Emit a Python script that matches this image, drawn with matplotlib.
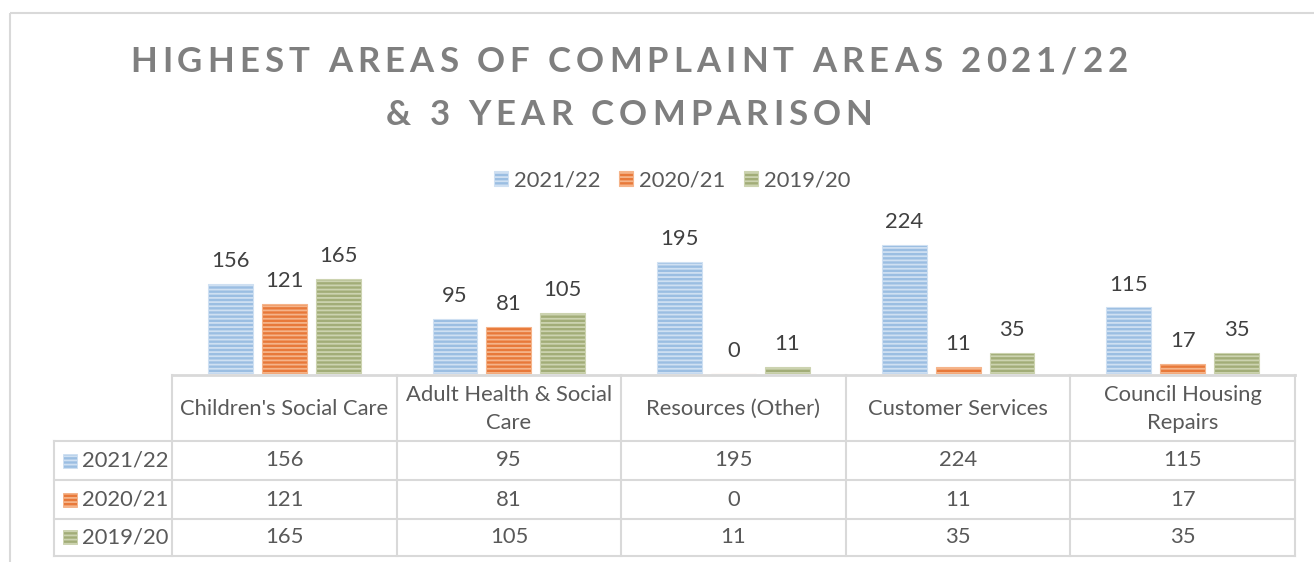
import textwrap
import numpy as np
import matplotlib
matplotlib.use("Agg")
import matplotlib.pyplot as plt
from matplotlib.patches import Rectangle
from matplotlib.lines import Line2D
from matplotlib.font_manager import FontProperties, findfont, get_font
import matplotlib.transforms as mtransforms

# ---------------- data ----------------
categories = ["Children's Social Care", "Adult Health & Social Care",
              "Resources (Other)", "Customer Services", "Council Housing Repairs"]
series_names = ["2021/22", "2020/21", "2019/20"]
vals_2021_22 = [156, 95, 195, 224, 115]
vals_2020_21 = [121, 81, 0, 11, 17]
vals_2019_20 = [165, 105, 11, 35, 35]
title_lines = ["HIGHEST AREAS OF COMPLAINT AREAS 2021/22", "& 3 YEAR COMPARISON"]

series_vals = [vals_2021_22, vals_2020_21, vals_2019_20]
face_cols = ["#9BBEE2", "#E8793A", "#A2AD78"]
hatch_cols = ["#CFE0F2", "#F5B48A", "#CCD3B0"]

W, H, DPI = 1314, 562, 100
plt.rcParams["font.family"] = ["Lato", "DejaVu Sans"]
plt.rcParams["hatch.linewidth"] = 1.3
TXT = "#595959"
GRID = "#D9D9D9"
FS = 15.8

fig = plt.figure(figsize=(W / DPI, H / DPI), dpi=DPI)
fig.patch.set_facecolor("white")

def fx(x):
    return x / W

def fy(y):
    return 1 - y / H

# ---------------- main axes ----------------
ax_l, ax_r, ax_b, ax_t = 172, 1295, 373.5, 230
ax = fig.add_axes([fx(ax_l), fy(ax_b), fx(ax_r - ax_l), (ax_b - ax_t) / H])
ax.set_xlim(-0.5, len(categories) - 0.5)
ax.set_ylim(0, 250)
ax.axis("off")

x = np.arange(len(categories))
bw = 0.2
offs = [-0.24, 0.0, 0.24]
for vals, name, fc, hc, off in zip(series_vals, series_names, face_cols, hatch_cols, offs):
    bars = ax.bar(x + off, vals, width=bw, color=fc, edgecolor=hc, hatch="----",
                  linewidth=0.8, label=name, zorder=2)
    for xi, v in zip(x + off, vals):
        ax.annotate(str(v), (xi, v), xytext=(0, 12.2), textcoords="offset points",
                    ha="center", va="baseline", fontsize=FS, color="#404040",
                    annotation_clip=False)

# ---------------- overlay (pixel coords) ----------------
ov = fig.add_axes([0, 0, 1, 1], zorder=5)
ov.set_xlim(0, W)
ov.set_ylim(H, 0)
ov.axis("off")
ov.patch.set_visible(False)

# outer chart border (extends past the image on right/bottom)
ov.add_patch(Rectangle((9.5, 13), 1400, 600, fill=False, edgecolor=GRID,
                       linewidth=1.5, clip_on=False))

# ---------------- title with letter spacing ----------------
TSZ = 25
tprop = FontProperties(family="Lato", weight="bold", size=TSZ)
tfont = get_font(findfont(tprop))
tfont.set_size(TSZ, DPI)

def adv(c):
    g = tfont.load_char(ord(c))
    return g.linearHoriAdvance / 65536.0

nat1 = sum(adv(c) for c in title_lines[0])
spacing = (998 - nat1) / (len(title_lines[0]) - 1)
for line, base in zip(title_lines, [72, 125]):
    advs = [adv(c) for c in line]
    total = sum(advs) + spacing * (len(line) - 1)
    xc = 629 - total / 2
    for c, a in zip(line, advs):
        if c != " ":
            ov.text(xc, base, c, fontproperties=tprop, color="#7F7F7F",
                    ha="left", va="baseline")
        xc += a + spacing

# ---------------- legend ----------------
handles, labels = ax.get_legend_handles_labels()
leg = fig.legend(handles, labels, loc="center", bbox_to_anchor=(fx(672), fy(180)),
                 ncol=3, frameon=False, fontsize=FS, labelcolor=TXT,
                 handlelength=0.65, handleheight=0.65, handletextpad=0.25,
                 columnspacing=0.85, borderpad=0)

# ---------------- data table ----------------
col_edges_px = np.linspace(ax_l, ax_r, len(categories) + 1)
lab_left = 54
row_edges = [375, 441, 480, 519, 555.5]
lw = 1.5
ov.add_line(Line2D([ax_l, ax_r], [row_edges[0]] * 2, color=GRID, lw=2))
for yv in row_edges[1:]:
    ov.add_line(Line2D([lab_left, ax_r], [yv, yv], color=GRID, lw=lw))
for xv in col_edges_px:
    ov.add_line(Line2D([xv, xv], [row_edges[0], row_edges[-1]], color=GRID, lw=lw))
ov.add_line(Line2D([lab_left, lab_left], [row_edges[1], row_edges[-1]], color=GRID, lw=lw))

trans = mtransforms.blended_transform_factory(ax.transData, ov.transData)
hdr_c = (row_edges[0] + row_edges[1]) / 2 + 1
for i, cat in enumerate(categories):
    ax.text(i, hdr_c, textwrap.fill(cat, 22), transform=trans, ha="center",
            va="center", fontsize=FS, color=TXT, linespacing=1.5, multialignment="center")

for r, (name, vals, fc, hc) in enumerate(zip(series_names, series_vals, face_cols, hatch_cols)):
    yc = (row_edges[r + 1] + row_edges[r + 2]) / 2
    ov.add_patch(Rectangle((63, yc - 7), 14, 14, facecolor=fc, edgecolor=hc,
                           hatch="----", linewidth=0.6))
    ov.text(82, yc, name, ha="left", va="center", fontsize=FS, color=TXT)
    for i, v in enumerate(vals):
        ax.text(i, yc, str(v), transform=trans, ha="center", va="center",
                fontsize=FS, color=TXT)

fig.savefig("out.png", dpi=DPI)
